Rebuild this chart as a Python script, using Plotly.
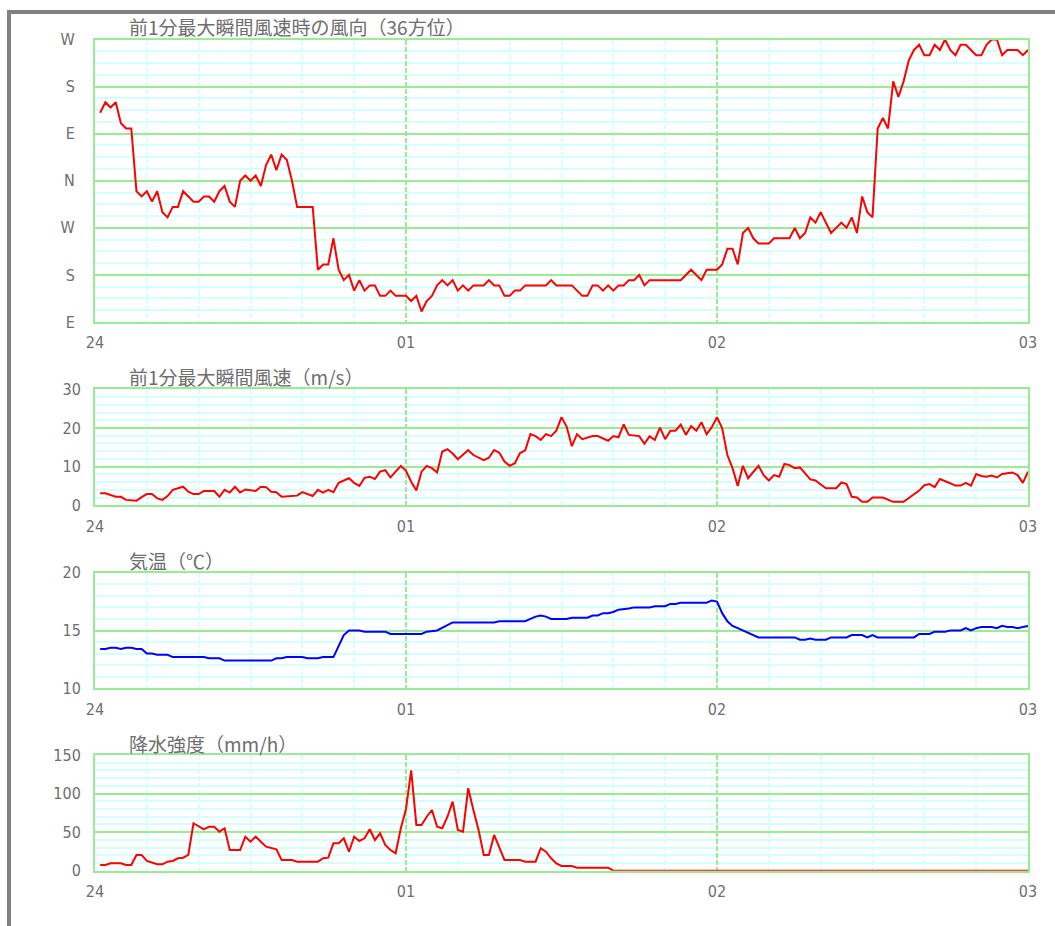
import plotly.graph_objects as go

# Time axis: minutes after 24:00 (0 = "24", 60 = "01", 120 = "02", 180 = "03")
hour_ticks = [0, 60, 120, 180]
hour_labels = ["24", "01", "02", "03"]

# Direction of the max gust, unwrapped degrees (90 = E at the bottom, 630 = W at the top)
dir_min = [1, 2, 3, 4, 5, 6, 7, 8, 9, 10, 11, 12, 13, 14, 15, 16, 17, 18, 19, 20,
           21, 22, 23, 24, 25, 26, 27, 28, 29, 30, 31, 32, 33, 34, 35, 36, 37, 38, 39, 42,
           43, 44, 45, 46, 47, 48, 49, 50, 51, 52, 53, 54, 55, 56, 57, 58, 60, 61, 62, 63,
           64, 65, 66, 67, 68, 69, 70, 71, 72, 73, 75, 76, 77, 78, 79, 80, 81, 82, 83, 87,
           88, 89, 92, 93, 94, 95, 96, 97, 98, 99, 100, 101, 102, 103, 104, 105, 106, 107, 113, 115,
           116, 117, 118, 120, 121, 122, 123, 124, 125, 126, 127, 128, 130, 131, 134, 135, 136, 137, 138, 139,
           140, 141, 142, 143, 144, 145, 146, 147, 148, 149, 150, 151, 152, 153, 154, 155, 156, 157, 158, 159,
           160, 161, 162, 163, 164, 165, 166, 167, 168, 169, 170, 171, 172, 173, 174, 175, 176, 178, 179, 180]
dir_deg = [490, 510, 500, 510, 470, 460, 460, 340, 330, 340, 320, 340, 300, 290, 310, 310, 340, 330, 320, 320,
           330, 330, 320, 340, 350, 320, 310, 360, 370, 360, 370, 350, 390, 410, 380, 410, 400, 360, 310, 310,
           190, 200, 200, 250, 190, 170, 180, 150, 170, 150, 160, 160, 140, 140, 150, 140, 140, 130, 140, 110,
           130, 140, 160, 170, 160, 170, 150, 160, 150, 160, 160, 170, 160, 160, 140, 140, 150, 150, 160, 160,
           170, 160, 160, 150, 140, 140, 160, 160, 150, 160, 150, 160, 160, 170, 170, 180, 160, 170, 170, 190,
           180, 170, 190, 190, 200, 230, 230, 200, 260, 270, 250, 240, 240, 250, 250, 270, 250, 260, 290, 280,
           300, 280, 260, 270, 280, 270, 290, 260, 330, 300, 290, 460, 480, 460, 550, 520, 550, 590, 610, 620,
           600, 600, 620, 610, 630, 610, 600, 620, 620, 610, 600, 600, 620, 630, 630, 600, 610, 610, 600, 610]
dir_tickvals = [90, 180, 270, 360, 450, 540, 630]
dir_ticktext = ["E", "S", "W", "N", "E", "S", "W"]

# Max gust in the previous minute (m/s)
gust_min = [1, 2, 4, 5, 6, 8, 9, 10, 11, 12, 13, 14, 15, 16, 17, 18, 19, 20, 21, 23,
            24, 25, 26, 27, 28, 29, 31, 32, 33, 34, 35, 36, 39, 40, 42, 43, 44, 45, 46, 47,
            49, 50, 51, 52, 53, 54, 55, 56, 57, 58, 59, 60, 61, 62, 63, 64, 65, 66, 67, 68,
            69, 70, 71, 72, 73, 74, 75, 76, 77, 78, 79, 80, 81, 82, 83, 84, 85, 86, 87, 88,
            89, 90, 91, 92, 93, 94, 96, 97, 99, 100, 101, 102, 103, 105, 106, 107, 108, 109, 110, 111,
            112, 113, 114, 115, 116, 117, 118, 119, 120, 121, 122, 123, 124, 125, 126, 128, 129, 130, 131, 132,
            133, 134, 135, 136, 138, 139, 141, 143, 144, 145, 146, 147, 148, 149, 150, 152, 154, 156, 158, 159,
            160, 161, 162, 163, 165, 166, 167, 168, 169, 170, 171, 172, 173, 174, 175, 177, 178, 179, 180]
gust_ms = [3.1, 3.1, 2.2, 2.2, 1.4, 1.2, 2.1, 2.9, 2.9, 1.8, 1.4, 2.4, 4.0, 4.4, 4.8, 3.5, 2.9, 2.9, 3.7, 3.7,
           2.2, 4.0, 3.3, 4.8, 3.3, 4.1, 3.7, 4.8, 4.7, 3.5, 3.4, 2.2, 2.5, 3.4, 2.4, 4.0, 3.3, 4.0, 3.4, 5.8,
           7.0, 5.8, 5.0, 7.1, 7.4, 6.8, 8.7, 9.1, 7.2, 8.7, 10.2, 8.9, 6.1, 3.8, 8.7, 10.2, 9.6, 8.5, 13.9, 14.5,
           13.4, 11.9, 13.2, 14.3, 13.0, 12.3, 11.7, 12.3, 14.3, 13.6, 11.3, 10.2, 10.9, 13.5, 14.2, 18.4, 17.9, 16.9, 18.4, 17.9,
           19.3, 22.8, 20.3, 15.3, 18.4, 17.1, 17.9, 17.9, 16.7, 17.9, 17.6, 20.9, 18.2, 17.9, 15.9, 17.9, 16.9, 20.1, 17.1, 19.3,
           19.3, 20.9, 18.2, 20.5, 19.3, 21.5, 18.4, 20.2, 22.8, 19.9, 13.0, 9.6, 5.0, 10.2, 7.0, 10.2, 7.8, 6.4, 7.8, 7.4,
           10.7, 10.4, 9.6, 9.8, 6.7, 6.4, 4.4, 4.4, 5.9, 5.5, 2.2, 2.0, 0.9, 0.9, 2.0, 2.0, 0.9, 0.9, 2.7, 3.8,
           5.2, 5.5, 4.7, 6.8, 5.7, 5.1, 5.1, 5.8, 5.1, 8.1, 7.6, 7.4, 7.7, 7.2, 8.1, 8.5, 7.8, 5.8, 8.7]

# Air temperature (deg C)
temp_min = [1, 2, 3, 4, 5, 6, 7, 8, 9, 10, 11, 12, 14, 15, 21, 22, 24, 25, 34, 35,
            36, 37, 40, 41, 43, 44, 46, 47, 48, 49, 51, 52, 56, 57, 63, 64, 66, 69, 77, 78,
            83, 84, 85, 86, 87, 88, 91, 92, 95, 96, 97, 98, 99, 100, 101, 103, 104, 107, 108, 110,
            111, 112, 113, 118, 119, 120, 121, 122, 123, 124, 125, 126, 127, 128, 135, 136, 137, 138, 139, 141,
            142, 145, 146, 148, 149, 150, 151, 158, 159, 161, 162, 164, 165, 167, 168, 169, 170, 171, 173, 174,
            175, 176, 177, 178, 179, 180]
temp_c = [13.4, 13.4, 13.5, 13.5, 13.4, 13.5, 13.5, 13.4, 13.4, 13.0, 13.0, 12.9, 12.9, 12.7, 12.7, 12.6, 12.6, 12.4, 12.4, 12.6,
          12.6, 12.7, 12.7, 12.6, 12.6, 12.7, 12.7, 13.6, 14.6, 15.0, 15.0, 14.9, 14.9, 14.7, 14.7, 14.9, 15.0, 15.7, 15.7, 15.8,
          15.8, 16.0, 16.2, 16.3, 16.2, 16.0, 16.0, 16.1, 16.1, 16.3, 16.3, 16.5, 16.5, 16.6, 16.8, 16.9, 17.0, 17.0, 17.1, 17.1,
          17.3, 17.3, 17.4, 17.4, 17.6, 17.5, 16.5, 15.8, 15.4, 15.2, 15.0, 14.8, 14.6, 14.4, 14.4, 14.2, 14.2, 14.3, 14.2, 14.2,
          14.4, 14.4, 14.6, 14.6, 14.4, 14.6, 14.4, 14.4, 14.7, 14.7, 14.9, 14.9, 15.0, 15.0, 15.2, 15.0, 15.2, 15.3, 15.3, 15.2,
          15.4, 15.3, 15.3, 15.2, 15.3, 15.4]

# Precipitation intensity (mm/h)
rain_min = [1, 2, 3, 5, 6, 7, 8, 9, 10, 12, 13, 14, 15, 16, 17, 18, 19, 20, 21, 22,
            23, 24, 25, 26, 28, 29, 30, 31, 33, 35, 36, 38, 39, 43, 44, 45, 46, 47, 48, 49,
            50, 51, 52, 53, 54, 55, 56, 57, 58, 59, 60, 61, 62, 63, 64, 65, 66, 67, 68, 69,
            70, 71, 72, 73, 74, 75, 76, 77, 78, 79, 82, 83, 85, 86, 87, 88, 89, 90, 92, 93,
            99, 100, 180]
rain_mmh = [7.4, 7.4, 9.6, 9.6, 7.4, 7.4, 20.4, 20.4, 12.6, 8.3, 8.3, 11.7, 12.6, 16.1, 16.9, 20.4, 61.5, 57.1, 53.7, 57.1,
            57.1, 50.6, 55.0, 26.8, 26.8, 44.1, 37.6, 44.1, 31.1, 27.8, 13.9, 13.9, 11.7, 11.7, 16.1, 16.9, 35.5, 35.5, 42.0, 24.6,
            44.1, 38.5, 42.0, 53.7, 39.8, 48.5, 33.3, 26.8, 22.6, 55.0, 80.0, 130.0, 59.3, 59.3, 70.0, 78.7, 57.1, 55.0, 70.0, 89.5,
            52.8, 50.6, 106.9, 78.7, 52.8, 20.4, 20.4, 46.3, 29.1, 13.9, 13.9, 11.7, 11.7, 29.1, 24.6, 16.1, 9.5, 6.1, 6.1, 3.9,
            3.9, 0.0, 0.0]

W, H = 1055, 926
GREEN = "#98EC98"
CYAN = "#D6FFFF"
TEXT = "#6E6E6E"
LABEL_FONT = dict(family="Liberation Sans Narrow, DejaVu Sans Condensed, sans-serif", size=16, color=TEXT)
TITLE_FONT = dict(family="Noto Sans CJK JP", size=19, color=TEXT)

x0, x1 = 95 / W, 1028 / W


def ydom(top_px, bottom_px):
    return [1 - bottom_px / H, 1 - top_px / H]


panels = [
    dict(title="前1分最大瞬間風速時の風向（36方位）", x=dir_min, y=dir_deg, color="#FF0000",
         dom=ydom(39.5, 322), rng=[90, 630], tickvals=dir_tickvals, ticktext=dir_ticktext,
         minor=22.5, tick0=90, title_y=26.7, standoff=15),
    dict(title="前1分最大瞬間風速（m/s）", x=gust_min, y=gust_ms, color="#FF0000",
         dom=ydom(389.3, 505.3), rng=[0, 30], tickvals=[0, 10, 20, 30], ticktext=["0", "10", "20", "30"],
         minor=2, tick0=0, title_y=376.5, standoff=9),
    dict(title="気温（℃）", x=temp_min, y=temp_c, color="#0000FF",
         dom=ydom(572.7, 688.3), rng=[10, 20], tickvals=[10, 15, 20], ticktext=["10", "15", "20"],
         minor=1, tick0=10, title_y=560, standoff=9),
    dict(title="降水強度（mm/h）", x=rain_min, y=rain_mmh, color="#FF0000",
         dom=ydom(755, 870.7), rng=[0, 150], tickvals=[0, 50, 100, 150], ticktext=["0", "50", "100", "150"],
         minor=10, tick0=0, title_y=743, standoff=9),
]

fig = go.Figure()
annotations = []
for i, p in enumerate(panels, start=1):
    sfx = "" if i == 1 else str(i)
    fig.add_trace(go.Scatter(x=p["x"], y=p["y"], mode="lines",
                             line=dict(color=p["color"], width=2),
                             xaxis="x" + sfx, yaxis="y" + sfx, showlegend=False,
                             hoverinfo="skip"))
    fig.layout["xaxis" + sfx] = dict(
        domain=[x0, x1], anchor="y" + sfx, range=[0, 180], automargin=False,
        tickmode="array", tickvals=hour_ticks, ticktext=hour_labels,
        showgrid=True, gridcolor=GREEN, gridwidth=2, griddash="5px,2px",
        minor=dict(tick0=0, dtick=10, showgrid=True, gridcolor=CYAN, gridwidth=2),
        showline=True, mirror=True, linecolor=GREEN, linewidth=2,
        zeroline=False, ticks="", tickfont=LABEL_FONT, ticklabelstandoff=5,
        fixedrange=True,
    )
    fig.layout["yaxis" + sfx] = dict(
        domain=p["dom"], anchor="x" + sfx, range=p["rng"], automargin=False,
        tickmode="array", tickvals=p["tickvals"], ticktext=p["ticktext"],
        showgrid=True, gridcolor=GREEN, gridwidth=2,
        minor=dict(tick0=p["tick0"], dtick=p["minor"], showgrid=True, gridcolor=CYAN, gridwidth=2),
        showline=True, mirror=True, linecolor=GREEN, linewidth=2,
        zeroline=False, ticks="", tickfont=LABEL_FONT, ticklabelstandoff=p["standoff"],
        fixedrange=True,
    )
    annotations.append(dict(text=p["title"], xref="paper", yref="paper",
                            x=127 / W, y=1 - p["title_y"] / H, xanchor="left", yanchor="middle",
                            showarrow=False, font=TITLE_FONT))

# page frame: grey rule along the top and the left edge
shapes = [
    dict(type="line", xref="paper", yref="paper", x0=9 / W, x1=9 / W, y0=0, y1=1 - 10 / H,
         line=dict(color="#808080", width=4)),
    dict(type="line", xref="paper", yref="paper", x0=7 / W, x1=1, y0=1 - 12 / H, y1=1 - 12 / H,
         line=dict(color="#808080", width=4)),
]

fig.update_layout(width=W, height=H, margin=dict(l=0, r=0, t=0, b=0, autoexpand=False),
                  paper_bgcolor="white", plot_bgcolor="white",
                  annotations=annotations, shapes=shapes, hovermode=False)

fig.write_html("out.html", config=dict(displayModeBar=False))
